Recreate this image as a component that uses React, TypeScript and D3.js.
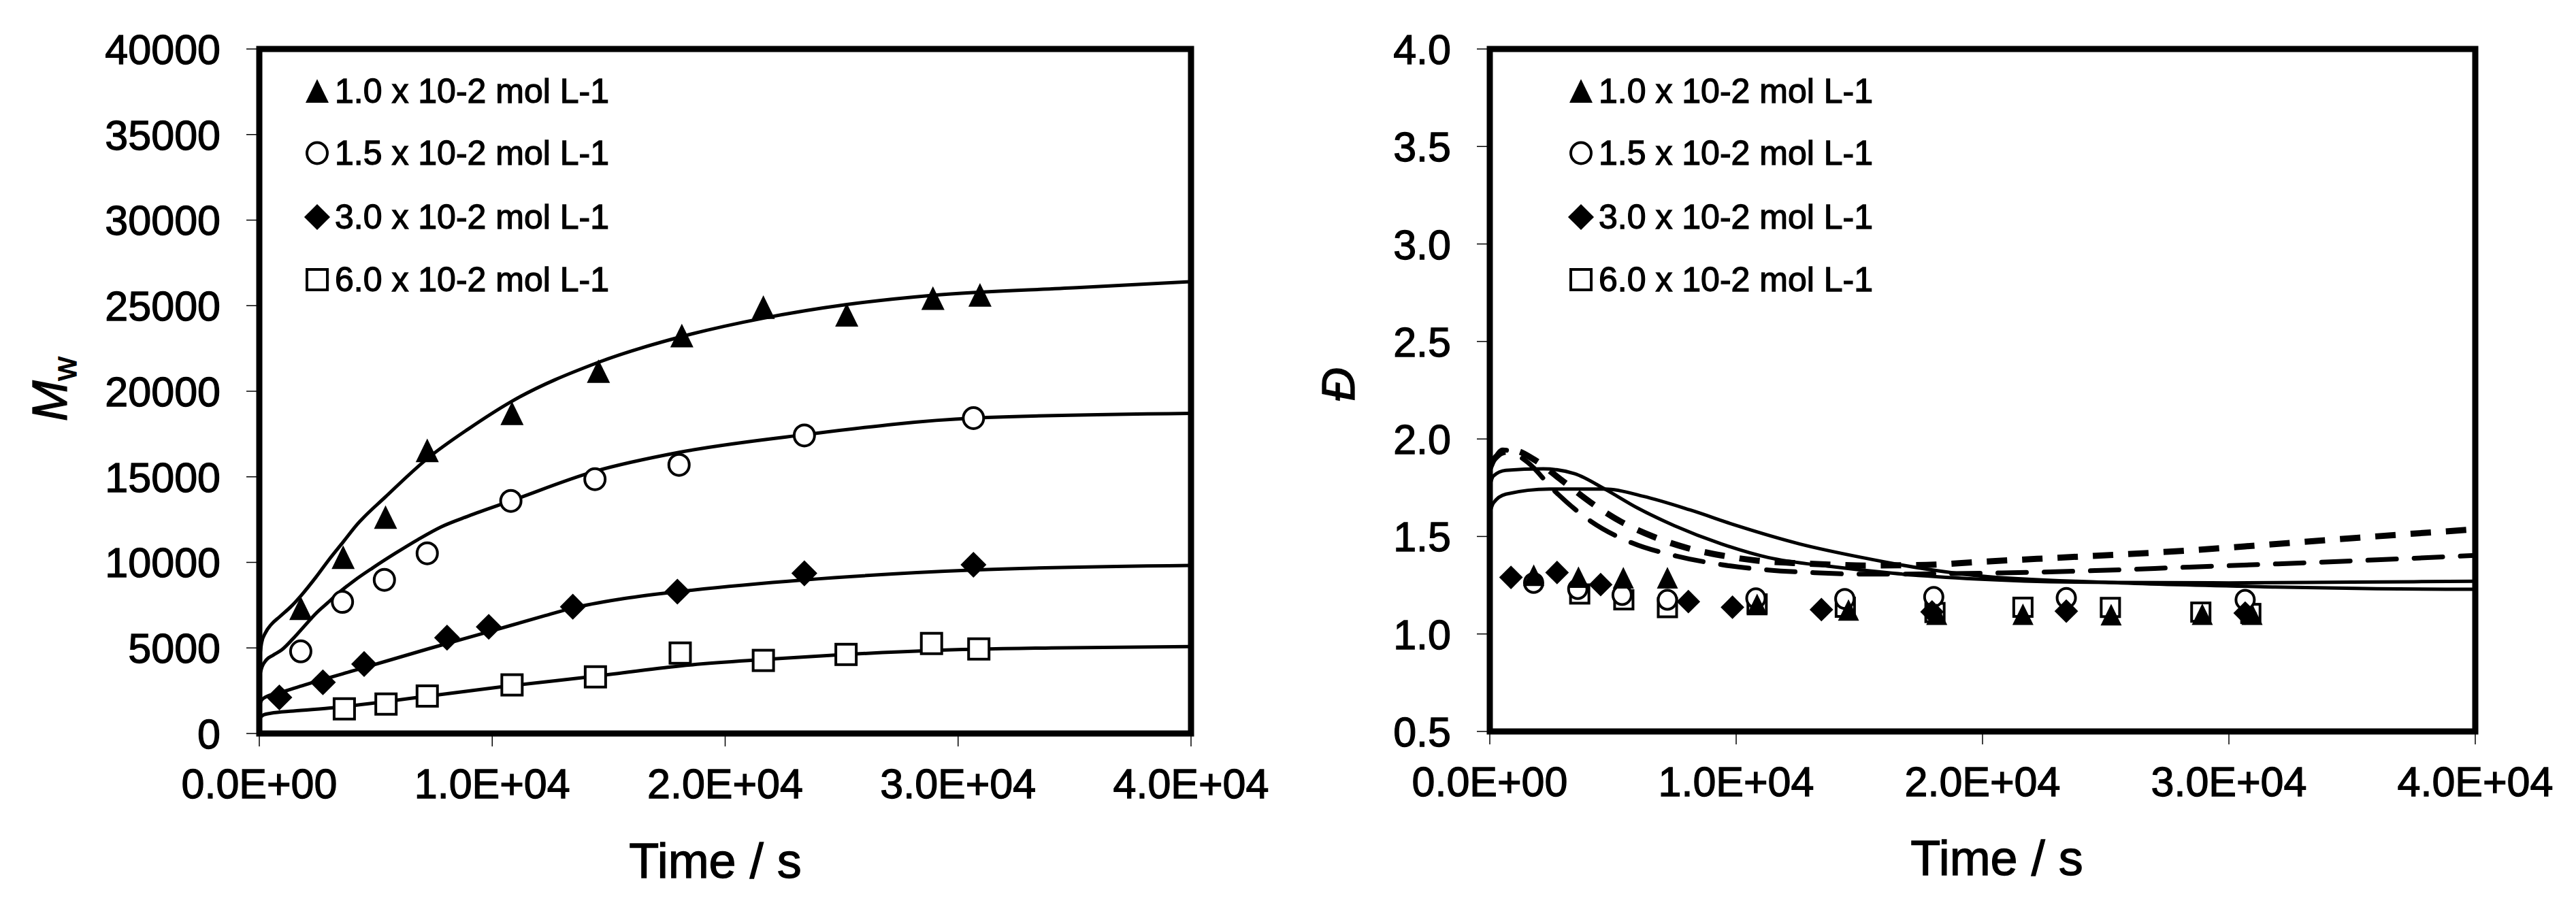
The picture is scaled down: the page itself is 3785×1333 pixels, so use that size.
import React from 'react';
import * as d3 from 'd3';

const W = 3785;
const H = 1333;
const FONT = "'Liberation Sans', Arial, sans-serif";
// the scanned reference text is slightly heavier than plain regular
const TEXT_STROKE = { stroke: '#000', strokeWidth: 1.3 };

// legend / series labels
const concLabels = ['1.0 x 10-2 mol L-1', '1.5 x 10-2 mol L-1', '3.0 x 10-2 mol L-1', '6.0 x 10-2 mol L-1'];
const markerKinds = ['triangle', 'circle', 'diamond', 'square'];

// axis ticks
const timeTicks = [0, 10000, 20000, 30000, 40000];
const mwTicks = [0, 5000, 10000, 15000, 20000, 25000, 30000, 35000, 40000];
const dispTicks = [0.5, 1.0, 1.5, 2.0, 2.5, 3.0, 3.5, 4.0];

// Mw, measured [time s, Mw]
const mwMeas10 = [[1784, 7310], [3600, 10290], [5420, 12630], [7210, 16530], [10850, 18700], [14560, 21160], [18140, 23240], [21640, 24900], [25220, 24450], [28920, 25430], [30940, 25620]];
const mwMeas15 = [[1780, 4800], [3570, 7690], [5370, 8980], [7210, 10530], [10800, 13590], [14410, 14860], [18020, 15700], [23400, 17420], [30660, 18430]];
const mwMeas30 = [[860, 2110], [2730, 2990], [4500, 4060], [8060, 5600], [9850, 6230], [13460, 7410], [17950, 8290], [23400, 9360], [30660, 9860]];
const mwMeas60 = [[3650, 1440], [5440, 1720], [7210, 2190], [10850, 2840], [14430, 3310], [18070, 4700], [21640, 4270], [25190, 4620], [28860, 5260], [30890, 4940]];

// Mw, model curves
const mwFit10 = [[0, 4200], [100, 5300], [270, 5900], [500, 6350], [880, 6830], [1370, 7430], [1850, 8150], [2440, 9150], [3020, 10210], [3610, 11210], [4190, 12200], [5420, 13830], [7210, 16060], [8980, 17800], [10800, 19380], [14560, 21690], [18150, 23200], [21640, 24270], [25230, 25070], [28920, 25610], [35100, 26050], [40000, 26400]];
const mwFit15 = [[0, 3300], [120, 3900], [300, 4300], [585, 4570], [975, 4900], [1460, 5560], [1950, 6300], [2440, 7030], [2920, 7620], [3410, 8220], [4090, 8950], [4870, 9680], [5850, 10540], [6820, 11340], [7800, 12070], [8980, 12710], [10800, 13590], [14410, 15320], [18030, 16430], [23410, 17460], [30660, 18430], [40000, 18710]];
const mwFit30 = [[0, 1600], [100, 1950], [300, 2150], [880, 2380], [1950, 2840], [4480, 3840], [7310, 4970], [9890, 5960], [12280, 6890], [13460, 7330], [15500, 7850], [17950, 8280], [23410, 8980], [30660, 9550], [40000, 9820]];
const mwFit60 = [[0, 700], [60, 950], [200, 1100], [490, 1180], [1460, 1310], [3220, 1510], [5360, 1850], [7210, 2180], [10720, 2780], [14440, 3350], [18070, 3950], [21640, 4320], [25190, 4620], [28870, 4850], [34000, 5000], [40000, 5080]];

// dispersity, measured [time s, D]
const dMeas10 = [[1784, 1.30], [3600, 1.29], [5420, 1.287], [7210, 1.287], [10850, 1.15], [14560, 1.122], [18140, 1.10], [21640, 1.10], [25220, 1.098], [28920, 1.10], [30940, 1.10]];
const dMeas15 = [[1780, 1.262], [3570, 1.23], [5370, 1.20], [7210, 1.175], [10800, 1.183], [14410, 1.18], [18020, 1.19], [23400, 1.185], [30660, 1.175]];
const dMeas30 = [[860, 1.29], [2730, 1.315], [4500, 1.253], [8060, 1.166], [9850, 1.137], [13460, 1.125], [17950, 1.113], [23400, 1.117], [30660, 1.107]];
const dMeas60 = [[3650, 1.205], [5440, 1.175], [7210, 1.135], [10850, 1.154], [14430, 1.137], [18070, 1.11], [21640, 1.137], [25190, 1.136], [28860, 1.112], [30890, 1.105]];

// dispersity, model curves
const dFitSolidA = [[0, 1.76], [144, 1.81], [650, 1.839], [2170, 1.847], [3440, 1.822], [4710, 1.74], [5980, 1.647], [7500, 1.555], [9400, 1.462], [11300, 1.392], [13840, 1.346], [16380, 1.311], [19780, 1.282], [25110, 1.264], [30000, 1.262], [35000, 1.266], [40000, 1.27]];
const dFitSolidB = [[0, 1.62], [144, 1.671], [650, 1.717], [2425, 1.743], [4710, 1.743], [6230, 1.706], [8130, 1.636], [10040, 1.555], [12570, 1.462], [15110, 1.392], [17650, 1.334], [19780, 1.299], [25110, 1.264], [31890, 1.241], [36000, 1.232], [40000, 1.229]];
const dFitDashShort = [[0, 1.87], [500, 1.93], [1000, 1.94], [1790, 1.895], [2930, 1.787], [4100, 1.674], [5320, 1.576], [6640, 1.499], [8010, 1.441], [9400, 1.403], [10860, 1.376], [12320, 1.364], [13780, 1.356], [15240, 1.351], [16650, 1.352], [18090, 1.356], [19770, 1.369], [23550, 1.394], [27460, 1.421], [31370, 1.456], [35280, 1.494], [40000, 1.537]];
const dFitDashLong = [[0, 1.84], [170, 1.89], [525, 1.944], [1540, 1.88], [2620, 1.735], [4100, 1.578], [5750, 1.468], [7560, 1.40], [9430, 1.355], [11300, 1.328], [13200, 1.314], [15110, 1.307], [16340, 1.307], [18500, 1.309], [20780, 1.313], [24590, 1.325], [28400, 1.343], [32680, 1.363], [36000, 1.38], [40000, 1.403]];

const fmtTime = (v) => {
  if (v === 0) return '0.0E+00';
  const e = Math.floor(Math.log10(v));
  return `${(v / 10 ** e).toFixed(1)}E+${String(e).padStart(2, '0')}`;
};

const markerPath = (kind, s) => {
  if (kind === 'triangle') return `M0,${-s * 0.52}L${s / 2},${s * 0.5}L${-s / 2},${s * 0.5}Z`;
  if (kind === 'diamond') { const h = s * 0.56; return `M0,${-h}L${h},0L0,${h}L${-h},0Z`; }
  return null;
};

function Marker({ kind, cx, cy, s }) {
  if (kind === 'circle') {
    return <ellipse cx={cx} cy={cy} rx={(s - 4) / 2} ry={(s - 3) / 2} fill="#fff" stroke="#000" strokeWidth={4} />;
  }
  if (kind === 'square') {
    const a = s - 4;
    return <rect x={cx - a / 2} y={cy - a / 2} width={a} height={a} fill="#fff" stroke="#000" strokeWidth={4} />;
  }
  return <path d={markerPath(kind, s)} transform={`translate(${cx},${cy})`} fill="#000" />;
}

const drawOrder = ['square', 'circle', 'diamond', 'triangle'];
const legendRows = [134, 225, 319, 411];

function Panel({ box, yDomain, yTicks, yFormat, fits, measured, legendX, ms }) {
  const x = d3.scaleLinear().domain([0, 40000]).range([box.x0, box.x1]);
  const y = d3.scaleLinear().domain(yDomain).range([box.y1, box.y0]);
  const line = d3.line().x((d) => x(d[0])).y((d) => y(d[1])).curve(d3.curveMonotoneX);
  const ordered = drawOrder.map((k) => measured.find((m) => m.kind === k));

  return (
    <g>
      {fits.map((f, i) => (
        <path key={i} d={line(f.data)} fill="none" stroke="#000" strokeWidth={f.w}
          strokeDasharray={f.dash || null} strokeLinecap={f.cap || 'butt'} />
      ))}
      {ordered.map((m) => m.data.map((d, j) => (
        <Marker key={m.kind + j} kind={m.kind} cx={x(d[0])} cy={y(d[1])} s={ms} />
      )))}
      {/* frame */}
      <rect x={box.x0} y={box.y0} width={box.x1 - box.x0} height={box.y1 - box.y0}
        fill="none" stroke="#000" strokeWidth={9} />
      {/* y ticks */}
      {yTicks.map((t) => (
        <g key={t}>
          <line x1={box.x0 - 19} x2={box.x0} y1={y(t)} y2={y(t)} stroke="#000" strokeWidth={1.5} />
          <text x={box.x0 - 57} y={y(t)} dy="0.36em" textAnchor="end" fontSize={61} fontFamily={FONT} {...TEXT_STROKE}>{yFormat(t)}</text>
        </g>
      ))}
      {/* x ticks */}
      {timeTicks.map((t) => (
        <g key={t}>
          <line x1={x(t)} x2={x(t)} y1={box.y1} y2={box.y1 + 19} stroke="#000" strokeWidth={1.5} />
          <text x={x(t)} y={box.y1 + 95} textAnchor="middle" fontSize={61} fontFamily={FONT} {...TEXT_STROKE}>{fmtTime(t)}</text>
        </g>
      ))}
      {/* legend */}
      {concLabels.map((lab, i) => (
        <g key={lab}>
          <Marker kind={markerKinds[i]} cx={legendX} cy={legendRows[i]} s={34} />
          <text x={legendX + 26} y={legendRows[i] + 17} fontSize={50} fontFamily={FONT} {...TEXT_STROKE}>{lab}</text>
        </g>
      ))}
    </g>
  );
}

export default function App() {
  const left = { x0: 381, x1: 1750, y0: 72, y1: 1078 };
  const right = { x0: 2189, x1: 3637, y0: 72, y1: 1075 };

  const mwFits = [mwFit10, mwFit15, mwFit30, mwFit60].map((data) => ({ data, w: 5 }));
  const mwMeasured = [mwMeas10, mwMeas15, mwMeas30, mwMeas60].map((data, i) => ({ data, kind: markerKinds[i] }));
  const dFits = [
    { data: dFitSolidA, w: 5 },
    { data: dFitSolidB, w: 5 },
    { data: dFitDashShort, w: 9, dash: '30 22' },
    { data: dFitDashLong, w: 7, dash: '42 26', cap: 'round' },
  ];
  const dMeasured = [dMeas10, dMeas15, dMeas30, dMeas60].map((data, i) => ({ data, kind: markerKinds[i] }));

  return (
    <svg width={W} height={H} style={{ position: 'absolute', left: 0, top: 0, background: '#fff' }}>
      <rect width={W} height={H} fill="#fff" />
      <Panel box={left} yDomain={[0, 40000]} yTicks={mwTicks} yFormat={d3.format('d')}
        fits={mwFits} measured={mwMeasured} legendX={466} ms={34} />
      <Panel box={right} yDomain={[0.5, 4.0]} yTicks={dispTicks} yFormat={d3.format('.1f')}
        fits={dFits} measured={dMeasured} legendX={2323} ms={31} />

      {/* axis titles */}
      <text transform="translate(98,572) rotate(-90)" textAnchor="middle" fontSize={72} fontFamily={FONT} {...TEXT_STROKE}>
        <tspan fontStyle="italic">M</tspan>
        <tspan fontSize={48} dy={14}>w</tspan>
      </text>
      <text transform="translate(1990,565) rotate(-90)" textAnchor="middle" fontSize={68} fontFamily={FONT} fontStyle="italic" {...TEXT_STROKE}>Đ</text>
      <text x={1051} y={1290} textAnchor="middle" fontSize={72} fontFamily={FONT} {...TEXT_STROKE}>Time / s</text>
      <text x={2934} y={1286} textAnchor="middle" fontSize={72} fontFamily={FONT} {...TEXT_STROKE}>Time / s</text>
    </svg>
  );
}
